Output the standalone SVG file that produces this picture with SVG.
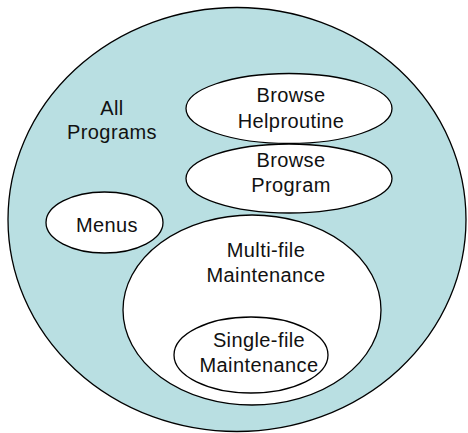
<svg xmlns="http://www.w3.org/2000/svg" width="468" height="433" viewBox="0 0 468 433">
  <style>
    .set { stroke: #000; stroke-width: 1.3; }
    .outer { fill: #b9dfe2; }
    .inner { fill: #ffffff; }
    .lbl { font-family: "Liberation Sans", Arial, sans-serif; font-size: 20px; letter-spacing: 0.4px; fill: #111; text-anchor: middle; }
  </style>
  <rect width="468" height="433" fill="#ffffff"/>
  <g id="all-programs">
    <ellipse class="set outer" cx="237" cy="219.5" rx="229" ry="212"/>
    <text class="lbl" x="112" y="115">All</text>
    <text class="lbl" x="112" y="139">Programs</text>
  </g>
  <g id="browse-helproutine">
    <ellipse class="set inner" cx="289" cy="108.5" rx="103" ry="35"/>
    <text class="lbl" x="291" y="102">Browse</text>
    <text class="lbl" x="291" y="128">Helproutine</text>
  </g>
  <g id="browse-program">
    <ellipse class="set inner" cx="289" cy="178.5" rx="103" ry="34.5"/>
    <text class="lbl" x="291" y="167">Browse</text>
    <text class="lbl" x="291" y="192">Program</text>
  </g>
  <g id="menus">
    <ellipse class="set inner" cx="104.5" cy="222.5" rx="58.5" ry="30.5"/>
    <text class="lbl" x="107" y="232">Menus</text>
  </g>
  <g id="multi-file-maintenance">
    <ellipse class="set inner" cx="252" cy="310" rx="129" ry="95"/>
    <text class="lbl" x="266" y="257">Multi-file</text>
    <text class="lbl" x="266" y="282">Maintenance</text>
  </g>
  <g id="single-file-maintenance">
    <ellipse class="set inner" cx="251" cy="355" rx="77" ry="38"/>
    <text class="lbl" x="259" y="347">Single-file</text>
    <text class="lbl" x="259" y="372">Maintenance</text>
  </g>
  <g id="connectors"/>
</svg>
